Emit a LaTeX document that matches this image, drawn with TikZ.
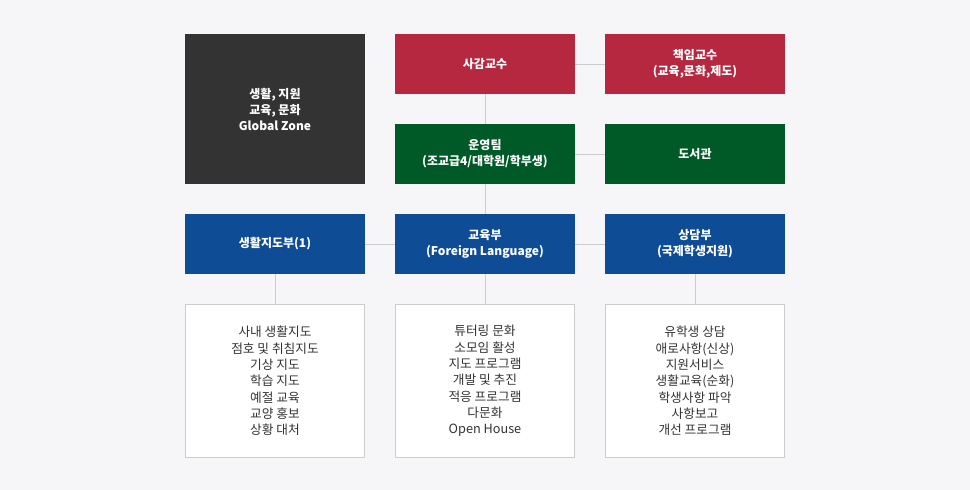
\documentclass[tikz,border=0pt]{standalone}
\usepackage{fontspec}
\setmainfont{Noto Sans CJK KR}
\definecolor{bgray}{HTML}{F6F6F8}
\definecolor{dgray}{HTML}{333333}
\definecolor{cred}{HTML}{B5283F}
\definecolor{cgreen}{HTML}{005A28}
\definecolor{cblue}{HTML}{0E4C96}
\definecolor{lgray}{HTML}{CCCCCC}
\tikzset{
  box/.style={minimum width=180pt, minimum height=60pt, inner sep=0pt, align=center,
    text=white, font=\fontsize{12}{16}\selectfont\bfseries},
  listbox/.style={draw=lgray, fill=white, minimum width=179pt, minimum height=153pt,
    inner sep=0pt, align=center, text=black!80, font=\fontsize{12.7}{16.3}\selectfont},
  link/.style={draw=lgray, line width=1pt}
}
\begin{document}
\begin{tikzpicture}[x=1pt, y=-1pt]
    \fill[bgray] (0,0) rectangle (970,490);
    \useasboundingbox (0,0) rectangle (970,490);

    % top rows
    \node[box, fill=dgray, minimum height=150pt] (zone) at (275,109) {생활, 지원\\교육, 문화\\Global Zone};
    \node[box, fill=cred] (sagam) at (485,64) {사감교수};
    \node[box, fill=cred] (chaegim) at (695,64) {책임교수\\(교육,문화,제도)};
    \node[box, fill=cgreen] (team) at (485,154) {운영팀\\(조교급4/대학원/학부생)};
    \node[box, fill=cgreen] (lib) at (695,154) {도서관};

    % departments
    \node[box, fill=cblue] (life) at (275,244) {생활지도부(1)};
    \node[box, fill=cblue] (edu) at (485,244) {교육부\\(Foreign Language)};
    \node[box, fill=cblue] (counsel) at (695,244) {상담부\\(국제학생지원)};

    \node[listbox] (lifelist) at (275,381) {사내 생활지도\\점호 및 취침지도\\기상 지도\\학습 지도\\예절 교육\\교양 홍보\\상황 대처};
    \node[listbox] (edulist) at (485,381) {튜터링 문화\\소모임 활성\\지도 프로그램\\개발 및 추진\\적응 프로그램\\다문화\\Open House};
    \node[listbox] (counsellist) at (695,381) {유학생 상담\\애로사항(신상)\\지원서비스\\생활교육(순화)\\학생사항 파악\\사항보고\\개선 프로그램};

    % connectors
    \draw[link] (sagam) -- (chaegim);
    \draw[link] (sagam) -- (team);
    \draw[link] (team) -- (lib);
    \draw[link] (team) -- (edu);
    \draw[link] (life) -- (edu);
    \draw[link] (edu) -- (counsel);
    \foreach \d in {life, edu, counsel}
    {
        \draw[link] (\d) -- (\d list);
    }
\end{tikzpicture}
\end{document}
